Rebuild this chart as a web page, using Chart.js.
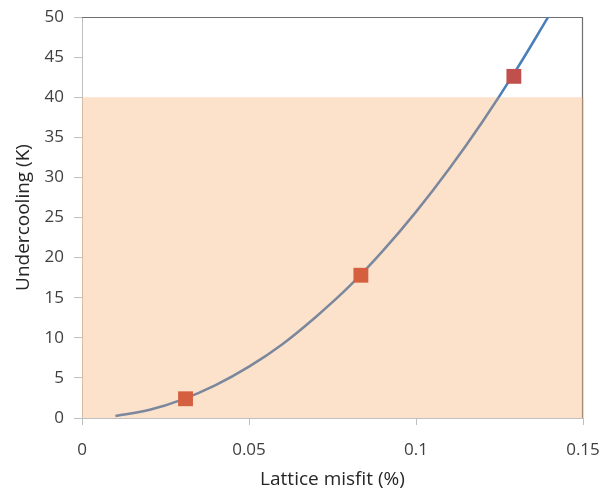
<!DOCTYPE html>
<html>
<head>
<meta charset="utf-8">
<script src="https://cdn.jsdelivr.net/npm/chart.js@4"></script>
<style>
  body { margin: 0; background: #fff; }
  #wrap { width: 606px; height: 499px; }
</style>
</head>
<body>
<div id="wrap"><canvas id="chart" width="606" height="499"></canvas></div>
<script>
// fitted curve
const curveX = [0.01, 0.02, 0.03, 0.04, 0.05, 0.06, 0.07, 0.08, 0.09, 0.1, 0.11, 0.12, 0.13, 0.14];
const curveY = [0.26, 1.0, 2.3, 4.1, 6.4, 9.2, 12.6, 16.4, 20.8, 25.7, 31.1, 37.0, 43.4, 50.3];

// measured points
const pointX = [0.031, 0.0835, 0.1293];
const pointY = [2.4, 17.8, 42.6];

// shaded band (undercooling range)
const bandLow = 0;
const bandHigh = 40;

const FONT = "'Open Sans', sans-serif";

// line: blue above the band, greyish where it runs through it
function curveColor(context) {
  const chart = context.chart;
  if (!chart.chartArea) return "#4A7EBB";
  const y = chart.scales.y;
  const top = chart.chartArea.top;
  const cut = y.getPixelForValue(bandHigh);
  const g = chart.ctx.createLinearGradient(0, top, 0, chart.chartArea.bottom);
  const f = (cut - top) / (chart.chartArea.bottom - top);
  g.addColorStop(0, "#4A7EBB");
  g.addColorStop(f, "#4A7EBB");
  g.addColorStop(f, "#7A879D");
  g.addColorStop(1, "#7A879D");
  return g;
}

const frame = {
  id: "frame",
  beforeDatasetsDraw(chart) {
    const { ctx, chartArea: a, scales } = chart;
    ctx.save();
    ctx.strokeStyle = "#6f6f6f";
    ctx.lineWidth = 1.2;
    ctx.beginPath();
    ctx.moveTo(a.left, a.top + 0.5);
    ctx.lineTo(a.right - 0.5, a.top + 0.5);
    ctx.lineTo(a.right - 0.5, a.bottom);
    ctx.stroke();

    const x0 = scales.x.getPixelForValue(0);
    const x1 = scales.x.getPixelForValue(0.15);
    const y0 = scales.y.getPixelForValue(bandHigh);
    const y1 = scales.y.getPixelForValue(bandLow);
    ctx.fillStyle = "rgba(248,180,126,0.4)";
    ctx.fillRect(x0, y0, x1 - x0 + 1, y1 - y0);
    ctx.restore();
  },
};

new Chart(document.getElementById("chart"), {
  type: "scatter",
  data: {
    datasets: [
      {
        data: pointX.map((x, i) => ({ x: x, y: pointY[i] })),
        pointStyle: "rect",
        pointRadius: 10.5,
        pointBackgroundColor: pointY.map((v) => (v > bandHigh ? "#C0504D" : "#D5603F")),
        pointBorderWidth: 0,
        order: 0,
      },
      {
        type: "line",
        data: curveX.map((x, i) => ({ x: x, y: curveY[i] })),
        borderColor: curveColor,
        borderWidth: 2.5,
        pointRadius: 0,
        tension: 0.4,
        fill: false,
        order: 1,
      },
    ],
  },
  options: {
    responsive: false,
    animation: false,
    layout: { padding: { top: 17, right: 23, left: 0, bottom: 0 } },
    plugins: { legend: { display: false }, tooltip: { enabled: false } },
    scales: {
      x: {
        type: "linear",
        min: 0,
        max: 0.15,
        afterFit: (s) => {
          s.height = 81;
          s.paddingLeft = 0;
          s.paddingRight = 0;
        },
        afterBuildTicks: (s) => { s.ticks = [0, 0.05, 0.1, 0.15].map((v) => ({ value: v })); },
        ticks: {
          padding: 15,
          color: "#404040",
          font: { family: FONT, size: 17 },
          callback: (v) => String(v),
        },
        grid: { drawOnChartArea: false, tickLength: 7, color: "#bfbfbf" },
        border: { color: "#bfbfbf" },
        title: {
          display: true,
          text: "Lattice misfit (%)",
          color: "#262626",
          font: { family: FONT, size: 19 },
          padding: { top: 0, bottom: 8 },
        },
      },
      y: {
        min: 0,
        max: 50,
        afterFit: (s) => {
          s.width = 82;
          s.paddingTop = 0;
          s.paddingBottom = 0;
        },
        ticks: {
          stepSize: 5,
          padding: 10,
          color: "#404040",
          font: { family: FONT, size: 17 },
        },
        grid: { drawOnChartArea: false, tickLength: 8, color: "#bfbfbf" },
        border: { color: "#bfbfbf" },
        title: {
          display: true,
          text: "Undercooling (K)",
          color: "#262626",
          font: { family: FONT, size: 19 },
          padding: { top: 12, bottom: 0 },
        },
      },
    },
  },
  plugins: [frame],
});
</script>
</body>
</html>
